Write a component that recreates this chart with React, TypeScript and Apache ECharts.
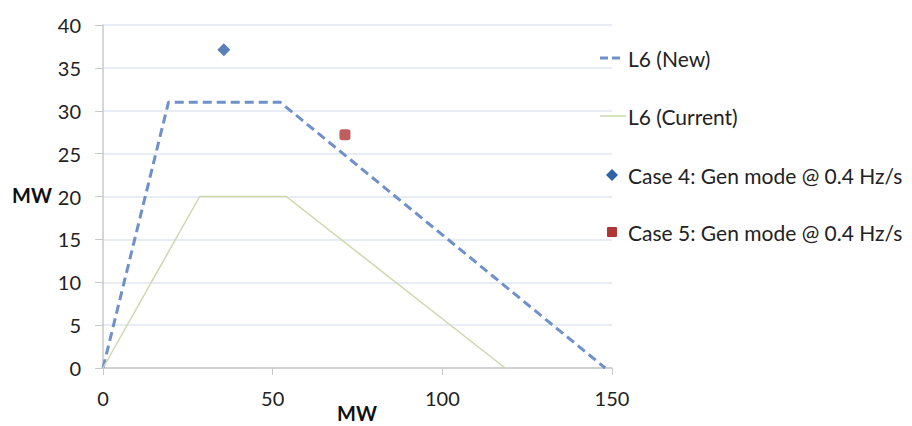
import React, { useEffect, useRef } from "react";
import * as echarts from "echarts";

const seriesNames = ["L6 (New)", "L6 (Current)", "Case 4: Gen mode @ 0.4 Hz/s", "Case 5: Gen mode @ 0.4 Hz/s"];
const newX = [0, 19.3, 52.2, 148];
const newY = [0, 31, 31, 0];
const curX = [0, 28.5, 54, 118.5];
const curY = [0, 20, 20, 0];
const case4 = [[35.6, 37.1]];
const case5 = [[71.3, 27.2]];
const yTicks = [0, 5, 10, 15, 20, 25, 30, 35, 40];
const xTicks = [0, 50, 100, 150];
const axisTitle = "MW";

const FONT = "Lato, 'Open Sans', sans-serif";
const BLUE_LINE = "#6f90c8";
const GREEN_LINE = "#cdd8ac";
const DIAMOND = "#2f62a6";
const SQUARE = "#b03535";

export default function App() {
  const ref = useRef<HTMLDivElement>(null);
  useEffect(() => {
    if (!ref.current) return;
    const chart = echarts.init(ref.current, null, { renderer: "svg" });
    const toPairs = (xs: number[], ys: number[]) => xs.map((x, i) => [x, ys[i]]);
    const legendX = 620;
    const legendY = [50, 108, 167, 224];
    const legendText = (i: number) => ({
      type: "text",
      x: legendX,
      y: legendY[i],
      style: {
        text: seriesNames[i],
        fontSize: 21,
        fill: "#222",
        fontFamily: FONT,
        textVerticalAlign: "middle",
        verticalAlign: "middle",
      },
    });
    chart.setOption({
      animation: false,
      backgroundColor: "#ffffff",
      textStyle: { fontFamily: FONT },
      grid: {
        left: 95,
        right: 292,
        top: 17,
        bottom: 58,
        containLabel: false,
        outerBoundsMode: "none",
      },
      xAxis: {
        type: "value",
        min: xTicks[0],
        max: xTicks[xTicks.length - 1],
        interval: 50,
        axisLine: { lineStyle: { color: "#c8c8c8", width: 1.5 } },
        axisTick: { show: true, length: 7, lineStyle: { color: "#c8c8c8" } },
        axisLabel: { fontSize: 20, color: "#222", margin: 20, fontFamily: FONT },
        splitLine: { show: false },
      },
      yAxis: {
        type: "value",
        min: yTicks[0],
        max: yTicks[yTicks.length - 1],
        interval: 5,
        axisLine: { show: true, lineStyle: { color: "#c8c8c8", width: 1.5 } },
        axisTick: { show: true, length: 8, lineStyle: { color: "#c8c8c8" } },
        axisLabel: { fontSize: 20, color: "#222", margin: 22, fontFamily: FONT },
        splitLine: { show: true, lineStyle: { color: "#e0e7f2", width: 1.5 } },
      },
      graphic: [
        {
          type: "text",
          x: 4,
          y: 187,
          style: {
            text: axisTitle,
            fontSize: 20,
            fontWeight: "bold",
            fill: "#111",
            fontFamily: FONT,
            textVerticalAlign: "middle",
            verticalAlign: "middle",
          },
        },
        {
          type: "text",
          x: 349,
          y: 405,
          style: {
            text: axisTitle,
            fontSize: 20,
            fontWeight: "bold",
            fill: "#111",
            fontFamily: FONT,
            align: "center",
            textAlign: "center",
            textVerticalAlign: "middle",
            verticalAlign: "middle",
          },
        },
        {
          type: "line",
          shape: { x1: 592, y1: legendY[0], x2: 616, y2: legendY[0] },
          style: { stroke: BLUE_LINE, lineWidth: 3, lineDash: [8, 4] },
        },
        legendText(0),
        {
          type: "line",
          shape: { x1: 592, y1: legendY[1], x2: 618, y2: legendY[1] },
          style: { stroke: GREEN_LINE, lineWidth: 1.5 },
        },
        legendText(1),
        {
          type: "polygon",
          shape: {
            points: [
              [604, legendY[2] - 6],
              [610, legendY[2]],
              [604, legendY[2] + 6],
              [598, legendY[2]],
            ],
          },
          style: { fill: DIAMOND },
        },
        legendText(2),
        {
          type: "rect",
          shape: { x: 599, y: legendY[3] - 5, width: 10, height: 10, r: 1 },
          style: { fill: SQUARE },
        },
        legendText(3),
      ],
      series: [
        {
          name: seriesNames[0],
          type: "line",
          data: toPairs(newX, newY),
          symbol: "none",
          color: BLUE_LINE,
          lineStyle: { color: BLUE_LINE, width: 3, type: [9, 5] },
        },
        {
          name: seriesNames[1],
          type: "line",
          data: toPairs(curX, curY),
          symbol: "none",
          color: GREEN_LINE,
          lineStyle: { color: GREEN_LINE, width: 1.5 },
        },
        {
          name: seriesNames[2],
          type: "scatter",
          data: case4,
          symbol: "diamond",
          symbolSize: 13,
          color: DIAMOND,
          itemStyle: { color: DIAMOND },
        },
        {
          name: seriesNames[3],
          type: "scatter",
          data: case5,
          symbol: "roundRect",
          symbolSize: 11,
          color: SQUARE,
          itemStyle: { color: SQUARE },
        },
      ],
    });
    return () => chart.dispose();
  }, []);
  return <div ref={ref} style={{ width: 896, height: 418 }} />;
}
